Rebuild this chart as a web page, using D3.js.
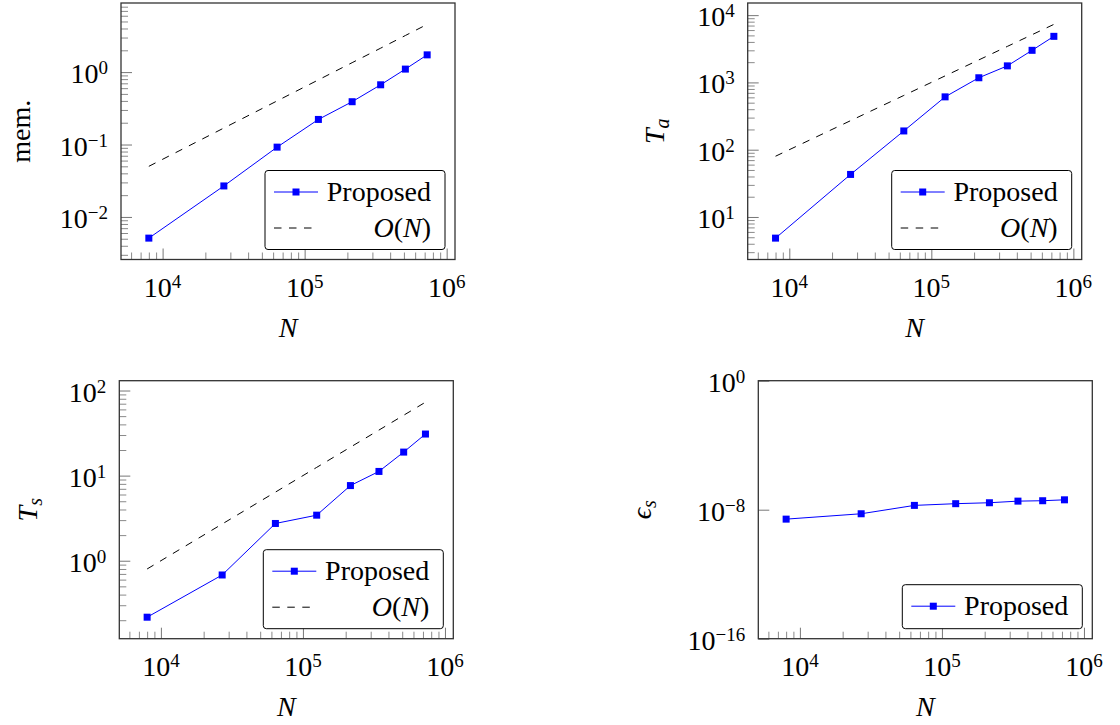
<!DOCTYPE html>
<html>
<head>
<meta charset="utf-8">
<script src="https://cdn.jsdelivr.net/npm/d3@7"></script>
<style>
  body { margin: 0; background: #fff; }
  svg text { font-family: "Liberation Serif", "Times New Roman", serif !important; }
</style>
</head>
<body>
<svg id="chart" width="1120" height="725"></svg>
<script>
// problem sizes (x axis of every panel)
var N = [8000, 27000, 64000, 125000, 216000, 343000, 512000, 729000];

// memory
var memProposed = [0.0051, 0.0268, 0.092, 0.222, 0.39, 0.668, 1.1, 1.73];
var memRef = [0.05, 0.169, 0.4, 0.781, 1.35, 2.14, 3.2, 4.56];

// assembly time
var taProposed = [4.85, 42.9, 190, 610, 1173, 1762, 3000, 4840];
var taRef = [80, 270, 640, 1250, 2160, 3430, 5120, 7290];

// solve time
var tsProposed = [0.217, 0.68, 2.74, 3.43, 7.64, 11.2, 18.9, 30.8];
var tsRef = [0.8, 2.7, 6.4, 12.5, 21.6, 34.3, 51.2, 72.9];

// error
var errProposed = [2.6e-9, 5.6e-9, 1.85e-8, 2.36e-8, 2.7e-8, 3.4e-8, 3.6e-8, 4.1e-8];
var errTicks = [1e-16, 1e-8, 1];
var errRange = [1e-16, 1];

var xTicks = [1e4, 1e5, 1e6];
var legendNames = ["Proposed", "O(N)"];

var svg = d3.select("#chart");
var W = 334;
var FONT = 28, SMALL = 19;
var FAMILY = "'Liberation Serif', 'Times New Roman', serif";

// panel layout
var panels = [
  { left: 121, top: 3, h: 256.5, ylab: [["mem.", false]], ylabX: 30, proposed: memProposed, ref: memRef },
  { left: 747.7, top: 3, h: 256.5, ylab: [["T", true], ["a", true, "sub"]], ylabX: 664, proposed: taProposed, ref: taRef },
  { left: 119.3, top: 380.7, h: 258, ylab: [["T", true], ["s", true, "sub"]], ylabX: 37, proposed: tsProposed, ref: tsRef },
  { left: 758.3, top: 380.7, h: 258, ylab: [["\u03f5", true], ["s", true, "sub"]], ylabX: 651, proposed: errProposed, ref: null,
    yDomain: errRange, yTicks: errTicks }
];

// pgfplots-like 10% enlargement in log space
function enlarge(ext) {
  var lo = Math.log10(ext[0]), hi = Math.log10(ext[1]), d = (hi - lo) * 0.1;
  return [Math.pow(10, lo - d), Math.pow(10, hi + d)];
}

function minorTicks(domain) {
  var out = [];
  var k0 = Math.floor(Math.log10(domain[0])), k1 = Math.ceil(Math.log10(domain[1]));
  for (var k = k0; k <= k1; k++) {
    for (var m = 2; m <= 9; m++) {
      var v = m * Math.pow(10, k);
      if (v >= domain[0] && v <= domain[1]) out.push(v);
    }
  }
  return out;
}

function majorTicks(domain) {
  var out = [];
  for (var k = Math.ceil(Math.log10(domain[0]) - 1e-9); k <= Math.floor(Math.log10(domain[1]) + 1e-9); k++) {
    out.push(Math.pow(10, k));
  }
  return out;
}

function addText(parent, size) {
  return parent.append("text")
    .style("font-family", FAMILY)
    .style("font-size", size + "px")
    .attr("fill", "#000");
}

function powerLabel(sel, v) {
  var e = Math.round(Math.log10(v));
  sel.append("tspan").text("10");
  sel.append("tspan").attr("dy", -9).style("font-size", SMALL + "px")
    .text(e < 0 ? "\u2212" + (-e) : "" + e);
}

function styleAxis(g, color) {
  g.select(".domain").remove();
  g.attr("font-family", null).attr("font-size", null);
  g.selectAll(".tick line").attr("stroke", color).attr("stroke-width", 1);
  g.selectAll(".tick text").remove();
}

panels.forEach(function(p) {
  var right = p.left + W, bottom = p.top + p.h;
  var g = svg.append("g");

  var x = d3.scaleLog().domain(enlarge(d3.extent(N))).range([p.left, right]);
  var yDomain = p.yDomain || enlarge(d3.extent(p.proposed.concat(p.ref || [])));
  var y = d3.scaleLog().domain(yDomain).range([bottom, p.top]);
  var yMajor = p.yTicks || majorTicks(yDomain);
  var yMinor = p.yTicks ? [] : minorTicks(yDomain);

  // ticks, drawn inside the box on bottom and left
  g.append("g").attr("transform", "translate(0," + bottom + ")")
    .call(d3.axisBottom(x).tickValues(minorTicks(x.domain())).tickSizeInner(-7).tickSizeOuter(0))
    .call(styleAxis, "#8a8a8a");
  g.append("g").attr("transform", "translate(0," + bottom + ")")
    .call(d3.axisBottom(x).tickValues(xTicks).tickSizeInner(-11).tickSizeOuter(0))
    .call(styleAxis, "#777");
  g.append("g").attr("transform", "translate(" + p.left + ",0)")
    .call(d3.axisLeft(y).tickValues(yMinor).tickSizeInner(-7).tickSizeOuter(0))
    .call(styleAxis, "#8a8a8a");
  g.append("g").attr("transform", "translate(" + p.left + ",0)")
    .call(d3.axisLeft(y).tickValues(yMajor).tickSizeInner(-11).tickSizeOuter(0))
    .call(styleAxis, "#777");

  // box
  g.append("rect")
    .attr("x", p.left).attr("y", p.top).attr("width", W).attr("height", p.h)
    .attr("fill", "none").attr("stroke", "#333").attr("stroke-width", 1.3);

  // tick labels
  xTicks.forEach(function(v) {
    addText(g, FONT).attr("x", x(v)).attr("y", bottom + 37)
      .attr("text-anchor", "middle")
      .call(powerLabel, v);
  });
  yMajor.forEach(function(v) {
    addText(g, FONT).attr("x", p.left - 13).attr("y", y(v) + 11)
      .attr("text-anchor", "end")
      .call(powerLabel, v);
  });

  // axis labels
  addText(g, FONT).attr("x", p.left + W / 2).attr("y", bottom + 77)
    .attr("text-anchor", "middle").style("font-style", "italic")
    .text("N");

  var yl = addText(g, FONT)
    .attr("transform", "translate(" + p.ylabX + "," + (p.top + p.h / 2) + ") rotate(-90)")
    .attr("text-anchor", "middle");
  p.ylab.forEach(function(part) {
    var t = yl.append("tspan").text(part[0]);
    if (part[1]) t.style("font-style", "italic");
    if (part[2] === "sub") t.attr("dy", 5).style("font-size", "20px");
  });

  // series
  var line = d3.line().x(function(d) { return x(d[0]); }).y(function(d) { return y(d[1]); });

  if (p.ref) {
    g.append("path").datum(d3.zip(N, p.ref))
      .attr("d", line).attr("fill", "none")
      .attr("stroke", "#000").attr("stroke-width", 1).attr("stroke-dasharray", "7.5,7.5");
  }

  var pts = d3.zip(N, p.proposed);
  g.append("path").datum(pts)
    .attr("d", line).attr("fill", "none").attr("stroke", "#0000ff").attr("stroke-width", 1);
  g.selectAll(".mark").data(pts).enter().append("rect")
    .attr("x", function(d) { return x(d[0]) - 3.5; })
    .attr("y", function(d) { return y(d[1]) - 3.5; })
    .attr("width", 7).attr("height", 7).attr("fill", "#0000ff");

  // legend
  var rows = p.ref ? 2 : 1;
  var lw = 180, lh = rows === 2 ? 79 : 44;
  var lx = right - 10 - lw, ly = bottom - 10 - lh;
  var lg = g.append("g");
  lg.append("rect").attr("x", lx).attr("y", ly).attr("width", lw).attr("height", lh)
    .attr("rx", 3).attr("fill", "#fff").attr("stroke", "#000").attr("stroke-width", 1);

  for (var i = 0; i < rows; i++) {
    var cy = ly + 21.5 + i * 36;
    var ls = lg.append("line").attr("x1", lx + 9).attr("x2", lx + 53).attr("y1", cy).attr("y2", cy);
    if (i === 0) {
      ls.attr("stroke", "#0000ff").attr("stroke-width", 1);
      lg.append("rect").attr("x", lx + 31 - 3.5).attr("y", cy - 3.5)
        .attr("width", 7).attr("height", 7).attr("fill", "#0000ff");
      addText(lg, FONT).attr("x", lx + lw - 14).attr("y", cy + 9)
        .attr("text-anchor", "end").text(legendNames[0]);
    } else {
      ls.attr("stroke", "#000").attr("stroke-width", 1).attr("stroke-dasharray", "7.5,7.5");
      var t = addText(lg, FONT).attr("x", lx + lw - 14).attr("y", cy + 9)
        .attr("text-anchor", "end");
      t.append("tspan").style("font-style", "italic").text("O");
      t.append("tspan").text("(");
      t.append("tspan").style("font-style", "italic").text("N");
      t.append("tspan").text(")");
    }
  }
});
</script>
</body>
</html>
